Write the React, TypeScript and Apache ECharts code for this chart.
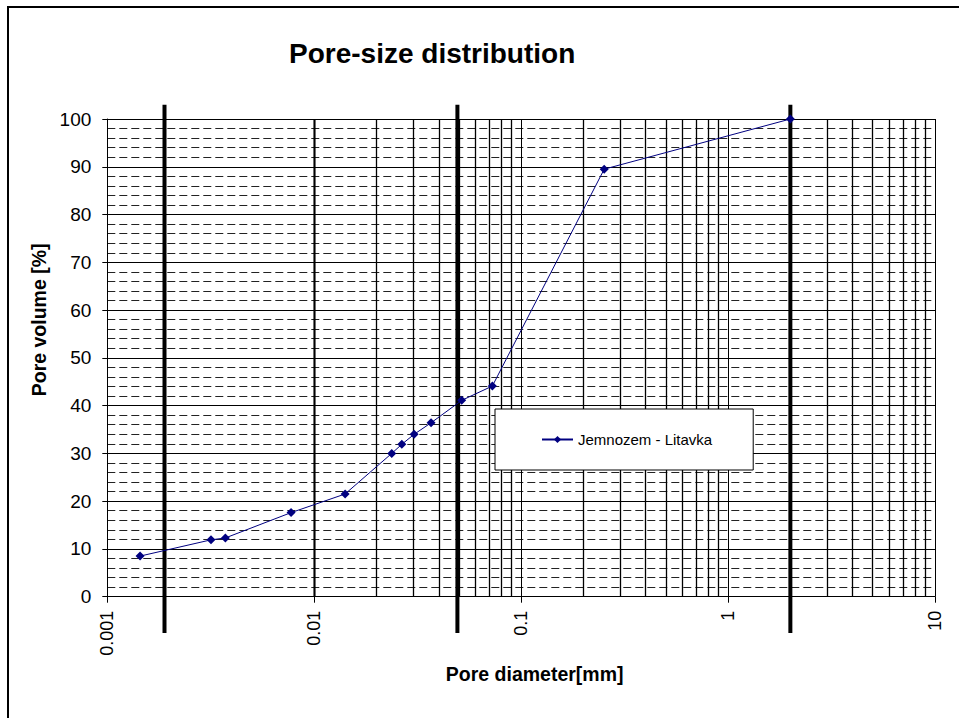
import React, { useEffect, useRef } from "react";
import * as echarts from "echarts";

// Pore diameter [mm] and cumulative pore volume [%]
const poreDiameter = [0.00144, 0.00317, 0.00372, 0.00773, 0.0141, 0.0237, 0.0265, 0.0304, 0.0367, 0.0516, 0.0726, 0.252, 2];
const poreVolume = [8.5, 11.9, 12.3, 17.6, 21.5, 30.0, 31.9, 34.0, 36.4, 41.1, 44.1, 89.5, 100];

// thick vertical boundary lines (particle size classes)
const boundaries = [0.00189, 0.0492, 2];
const boundaryRange = [-7.6, 103];

const xTickLabels = ["0.001", "0.01", "0.1", "1", "10"];
const yTicks = [0, 10, 20, 30, 40, 50, 60, 70, 80, 90, 100];
const decades = [0.001, 0.01, 0.1, 1];
const minorMultipliers = [2, 3, 4, 5, 6, 7, 8, 9];

const seriesName = "Jemnozem - Litavka";
const FONT = "'Liberation Sans', Arial, sans-serif";

export default function App() {
  const ref = useRef<HTMLDivElement>(null);
  useEffect(() => {
    if (!ref.current) return;
    const chart = echarts.init(ref.current, null, { renderer: "svg" });
    const minorXs: number[] = [];
    decades.forEach((d) => minorMultipliers.forEach((m) => minorXs.push(Number((d * m).toPrecision(3)))));

    const boundarySeries = boundaries.map((b, i) => ({
      name: "boundary" + i,
      type: "line",
      data: [
        [b, boundaryRange[0]],
        [b, boundaryRange[1]],
      ],
      clip: false,
      symbol: "none",
      silent: true,
      z: 3,
      lineStyle: { color: "#000", width: 4 },
    }));

    chart.setOption({
      animation: false,
      backgroundColor: "#fff",
      title: {
        text: "Pore-size distribution",
        left: 284,
        top: 34,
        textStyle: { fontFamily: FONT, fontSize: 28, fontWeight: "bold", color: "#000" },
      },
      legend: {
        data: [seriesName],
        left: 495,
        top: 409,
        z: 50,
        zlevel: 0,
        orient: "horizontal",
        backgroundColor: "#fff",
        borderColor: "#000",
        borderWidth: 1,
        padding: [23, 41, 23, 46],
        itemWidth: 31,
        itemHeight: 9,
        itemGap: 0,
        textStyle: { fontFamily: FONT, fontSize: 15, color: "#000" },
      },
      grid: { left: 107.3, right: 24, top: 119, bottom: 121.3, containLabel: false },
      xAxis: {
        type: "log",
        logBase: 10,
        min: 0.001,
        max: 10,
        name: "Pore diameter[mm]",
        nameLocation: "middle",
        nameGap: 67,
        nameTextStyle: { fontFamily: FONT, fontSize: 19.5, fontWeight: "bold", color: "#000", padding: [0, 0, 0, 27] },
        axisLine: { show: true, lineStyle: { color: "#000", width: 1 } },
        axisTick: { show: true, length: 6, lineStyle: { color: "#000" } },
        axisLabel: {
          rotate: 90,
          margin: 14,
          fontFamily: FONT,
          fontSize: 18,
          color: "#000",
          formatter: (v: number) => xTickLabels[Math.round(Math.log10(v)) + 3] ?? "",
        },
        splitLine: { show: true, lineStyle: { color: "#000", width: 1 } },
        minorTick: { show: false },
      },
      yAxis: {
        type: "value",
        min: 0,
        max: 100,
        interval: 10,
        name: "Pore volume [%]",
        nameLocation: "middle",
        nameGap: 57,
        nameTextStyle: { fontFamily: FONT, fontSize: 19.5, fontWeight: "bold", color: "#000", padding: [0, 0, 0, 76] },
        axisLine: { show: true, lineStyle: { color: "#000", width: 1 } },
        axisTick: { show: true, length: 5, lineStyle: { color: "#000" } },
        axisLabel: {
          margin: 16,
          fontFamily: FONT,
          fontSize: 19,
          color: "#000",
          formatter: (v: number) => (yTicks.includes(v) ? String(v) : ""),
        },
        splitLine: { show: true, lineStyle: { color: "#000", width: 1 } },
        minorTick: { show: false, splitNumber: 5 },
        minorSplitLine: { show: true, lineStyle: { color: "#222", width: 1, type: [8, 4] } },
      },
      series: [
        {
          name: "minorGrid",
          type: "line",
          data: [],
          silent: true,
          z: 1,
          markLine: {
            silent: true,
            symbol: ["none", "none"],
            label: { show: false },
            lineStyle: { color: "#000", width: 1.3, type: "solid", opacity: 1 },
            emphasis: { disabled: true },
            data: minorXs.map((x) => ({ xAxis: x })),
          },
        },
        ...boundarySeries,
        {
          name: seriesName,
          type: "line",
          data: poreDiameter.map((x, i) => [x, poreVolume[i]]),
          symbol: "diamond",
          symbolSize: 9,
          z: 5,
          itemStyle: { color: "#000080" },
          lineStyle: { color: "#000080", width: 1 },
        },
      ],
      graphic: [
        {
          type: "rect",
          shape: { x: 8, y: 7, width: 1000, height: 1000 },
          style: { fill: "none", stroke: "#000", lineWidth: 2 },
          silent: true,
          z: 100,
        },
      ],
    });
    return () => chart.dispose();
  }, []);
  return <div ref={ref} style={{ position: "fixed", left: 0, top: 0, width: 959, height: 718, background: "#fff" }} />;
}
